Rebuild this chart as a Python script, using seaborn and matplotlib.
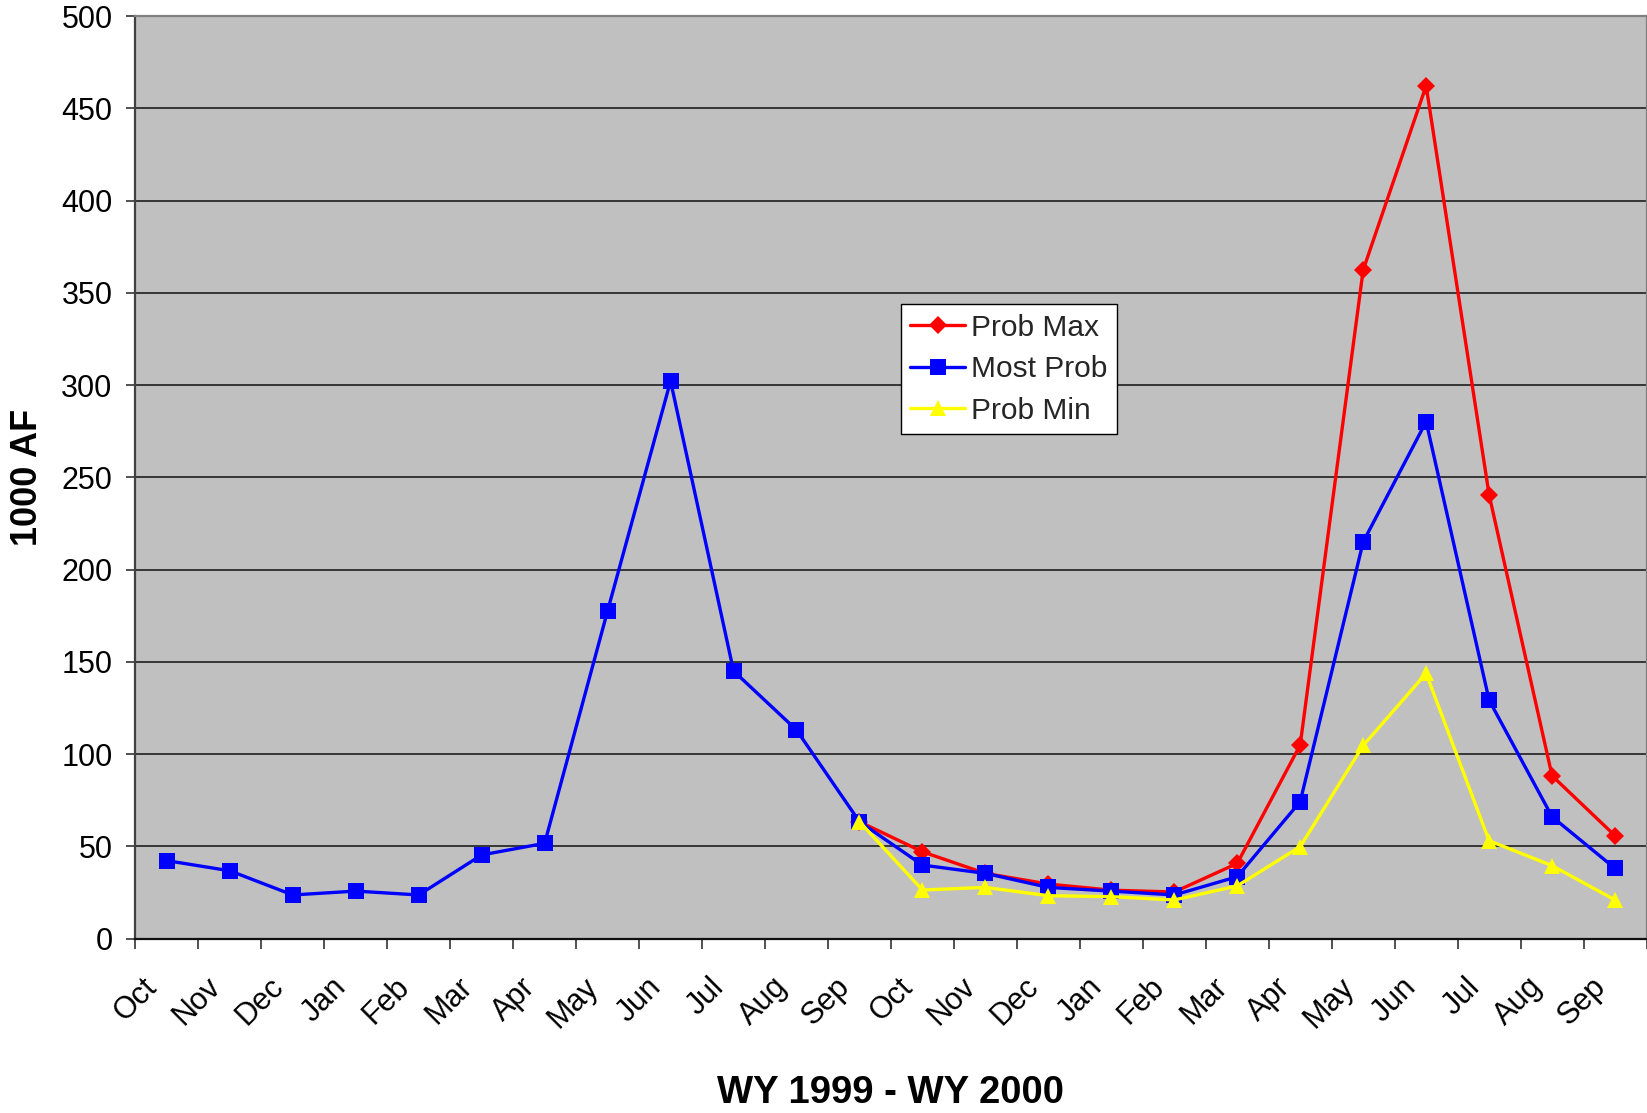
import numpy as np
import pandas as pd
import matplotlib
matplotlib.use("Agg")
import matplotlib.pyplot as plt
import matplotlib.transforms as mtransforms
import seaborn as sns

nan = np.nan

# Water years 1999 and 2000, October through September
months = ["Oct", "Nov", "Dec", "Jan", "Feb", "Mar",
          "Apr", "May", "Jun", "Jul", "Aug", "Sep"] * 2

most_prob = [42.3, 36.8, 23.7, 25.8, 23.7, 45.4, 51.7, 177.7, 302.2, 145.1, 113.1, 63.4,
             39.9, 35.4, 27.8, 25.8, 23.7, 33.6, 74.3, 215.0, 280.2, 129.3, 66.1, 38.1]
prob_max = [nan] * 11 + [63.4, 47.1, 35.4, 29.6, 26.3, 25.3, 40.8, 105.0, 362.4,
                         462.2, 240.6, 88.3, 55.8]
prob_min = [nan] * 11 + [63.4, 26.4, 27.8, 23.3, 22.8, 21.0, 28.6, 49.9, 104.7,
                         143.8, 53.1, 39.6, 21.0]

series_names = ["Prob Max", "Most Prob", "Prob Min"]
series_values = [prob_max, most_prob, prob_min]
y_ticks = list(range(0, 501, 50))

# Long-form table: one row per month and series
pos = np.arange(len(months)) + 0.5
frames = []
for name, vals in zip(series_names, series_values):
    frames.append(pd.DataFrame({"pos": pos, "month": months,
                                "series": name, "value": vals}))
df = pd.concat(frames, ignore_index=True).dropna(subset=["value"])

sns.set_theme(style="ticks")
plt.rcParams["font.family"] = ["Liberation Sans", "DejaVu Sans"]

fig = plt.figure(figsize=(16.47, 11.13), dpi=100)
ax = fig.add_axes([0.0822, 0.1566, 0.9175, 0.8290])
ax.set_facecolor("#C0C0C0")

styles = {
    "Prob Max": dict(color="#FF0000", marker="D", markersize=8.8),
    "Most Prob": dict(color="#0000FF", marker="s", markersize=11.5),
    "Prob Min": dict(color="#FFFF00", marker="^", markersize=12.2),
}
for name in series_names:
    st = styles[name]
    sns.lineplot(data=df[df["series"] == name], x="pos", y="value", ax=ax,
                 color=st["color"], marker=st["marker"], markersize=st["markersize"],
                 markeredgewidth=0, linewidth=2.4, label=name, sort=False,
                 zorder=3)

# Axes limits and ticks
ax.set_xlim(0, len(months))
ax.set_ylim(0, 500)
ax.set_yticks(y_ticks)
ax.set_xticks(np.arange(len(months) + 1))
ax.set_xticklabels([])
ax.set_xticks(pos, minor=True)
ax.set_xticklabels(months, minor=True, rotation=45, ha="right", va="center",
                   rotation_mode="anchor")

ax.tick_params(axis="x", which="major", length=7, width=1.2, direction="out",
               color="#333333")
ax.tick_params(axis="x", which="minor", length=0, pad=31.5, labelsize=22,
               labelcolor="black")
ax.tick_params(axis="y", which="major", length=6.5, width=1.2, direction="out",
               color="#333333", pad=10, labelsize=22, labelcolor="black")

shift = mtransforms.ScaledTranslation(-0.14, 0, fig.dpi_scale_trans)
for lbl in ax.get_xticklabels(minor=True):
    lbl.set_transform(lbl.get_transform() + shift)

# Horizontal gridlines
ax.yaxis.grid(True, color="#111111", linewidth=1.1)
ax.xaxis.grid(False)
ax.set_axisbelow(True)

for side, col in [("left", "#404040"), ("bottom", "#111111"),
                  ("top", "#808080"), ("right", "#808080")]:
    ax.spines[side].set_visible(True)
    ax.spines[side].set_color(col)
    ax.spines[side].set_linewidth(1.6)

# Axis titles
ax.set_xlabel("WY 1999 - WY 2000", fontsize=27.5, fontweight="bold", color="black")
ax.set_ylabel("1000 AF", fontsize=26, fontweight="bold", color="black")
ax.xaxis.set_label_coords(0.5, -0.148)
ax.yaxis.set_label_coords(-0.0595, 0.5)

# Legend
leg = ax.legend(loc="upper left", bbox_to_anchor=(0.5064, 0.6876),
                borderaxespad=0, fontsize=21.5, frameon=True, fancybox=False,
                framealpha=1, edgecolor="black", facecolor="white",
                handlelength=1.85, handletextpad=0.2, borderpad=0.32,
                labelspacing=0.45)
leg.get_frame().set_linewidth(1.0)

fig.savefig("out.png", dpi=100)
